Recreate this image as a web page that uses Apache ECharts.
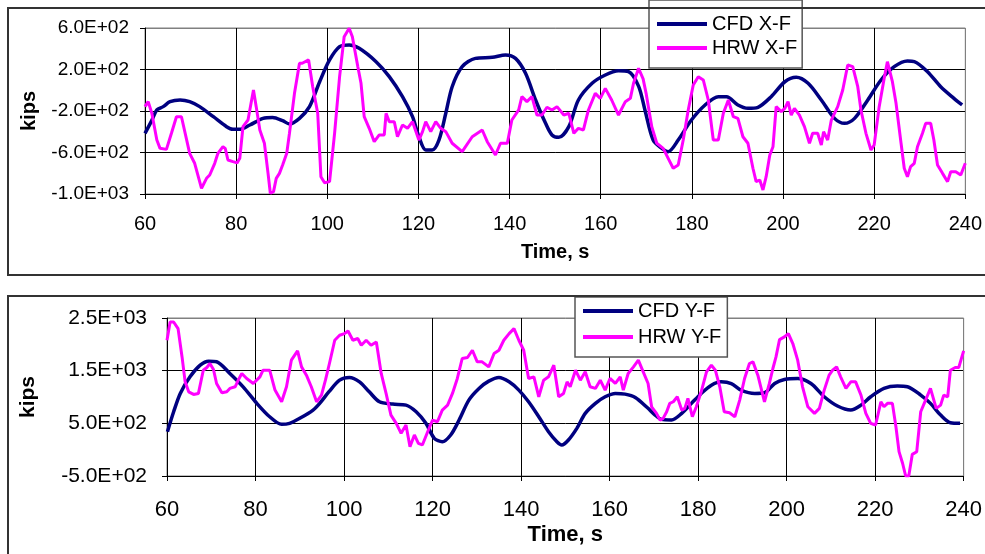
<!DOCTYPE html>
<html>
<head>
<meta charset="utf-8">
<script src="https://cdn.jsdelivr.net/npm/echarts@6/dist/echarts.min.js"></script>
<style>
  html, body { margin: 0; padding: 0; background: #fff; }
  #chart { width: 985px; height: 554px; }
</style>
</head>
<body>
<div id="chart"></div>
<script>
// Axis ticks
const timeMin = 60, timeMax = 240, timeStep = 20;
const fxTicks = [-1000, -600, -200, 200, 600];
const fyTicks = [-500, 500, 1500, 2500];

// Series names
const namesX = ['CFD X-F', 'HRW X-F'];
const namesY = ['CFD Y-F', 'HRW Y-F'];

// X-direction force, kips: [time s, force]
const cfdX = [
  [60,-415],[61.5,-290],[62.6,-190],[64,-158],[65.5,-110],[67.7,-94],[69.8,-110],[72,-158],
  [75,-255],[77.9,-351],[79.3,-377],[80.7,-377],[83,-335],[85.9,-271],[88,-262],[90.2,-293],
  [91.7,-325],[93.9,-271],[96.1,-158],[98.3,80],[100.5,292],[102.7,420],[104.8,436],[107,404],
  [110.7,275],[113.6,131],[116.5,-62],[118.7,-255],[120.1,-448],[121.6,-576],[123,-576],[124.5,-480],
  [126,-222],[127.4,34],[129.6,227],[132.5,307],[136.2,317],[139.1,340],[141.3,307],[143.5,163],
  [145.7,-94],[147.9,-319],[149.3,-431],[150.8,-454],[153,-351],[155.1,-94],[158.1,67],[161,147],
  [163.9,188],[166.1,179],[168.3,40],[169.7,-190],[171.5,-480],[173.4,-560],[174.8,-592],[177,-480],
  [179.9,-287],[182.9,-142],[185.8,-62],[187.6,-62],[190.1,-142],[192.3,-174],[194.5,-164],[197.4,-62],
  [200.4,82],[202.9,125],[205.5,67],[208.4,-94],[211.3,-271],[213.5,-319],[215.7,-271],[218.6,-94],
  [221.5,99],[224.4,227],[227.3,282],[228.8,276],[231.7,179],[234.6,34],[237.5,-78],[239.3,-142]
];
const hrwX = [
  [60,-158],[60.7,-110],[61.5,-222],[62.6,-480],[63.3,-560],[64.7,-570],[65.8,-415],[66.9,-255],
  [68,-255],[69.8,-608],[70.9,-704],[72.4,-945],[73.5,-849],[74.2,-817],[75.3,-704],[76,-608],
  [77.1,-544],[77.6,-560],[78.2,-672],[79.3,-688],[80.2,-700],[80.8,-656],[81.5,-351],[82.6,-287],
  [83.8,2],[84.4,-158],[85.2,-383],[86.2,-511],[87,-801],[87.5,-993],[88.2,-977],[88.8,-849],
  [89.5,-801],[90.2,-720],[91.1,-608],[91.7,-415],[92.8,-30],[93.9,260],[94.5,260],[95.9,292],
  [96.8,34],[97.9,-222],[98.6,-833],[99.4,-891],[100.5,-881],[101.6,-415],[102.7,131],[103.7,516],
  [104.8,597],[105.5,516],[106.7,227],[107.4,67],[108.1,-255],[109.2,-367],[110.3,-496],[111.4,-431],
  [112.5,-431],[112.9,-222],[113.6,-303],[114.7,-303],[115.4,-448],[116.5,-335],[117.6,-367],[118.7,-303],
  [120.1,-480],[120.9,-399],[121.6,-303],[122.7,-399],[123.8,-303],[124.9,-367],[126,-399],[127.4,-511],
  [129.6,-592],[131.8,-448],[134,-383],[135.1,-496],[136.9,-624],[138,-511],[139.5,-511],[140.5,-287],
  [142,-190],[142.7,-62],[143.8,-110],[144.9,-62],[146,-239],[147.1,-239],[148.2,-164],[149.3,-190],
  [150.4,-158],[151.9,-239],[153,-222],[154.1,-415],[155.1,-367],[156.2,-383],[157.3,-190],[158.8,-30],
  [159.9,-78],[161,18],[162.4,-94],[163.9,-239],[165.4,-110],[166.5,-78],[167.2,67],[168.3,212],
  [169.3,110],[170,-40],[171.2,-351],[172.3,-511],[173.7,-560],[174.8,-656],[175.9,-752],[177,-720],
  [178.1,-480],[179.2,-190],[180.3,51],[181.4,131],[182.5,99],[183.6,-94],[184.7,-480],[185.8,-480],
  [186.9,-222],[188,-94],[189.1,-255],[190.1,-271],[191.2,-448],[192.3,-511],[193.4,-752],[194.1,-881],
  [194.9,-865],[195.6,-961],[196.3,-833],[197.1,-624],[197.8,-544],[198.5,-158],[199.6,-206],[200.4,-174],
  [201.1,-110],[201.8,-239],[202.5,-174],[203.6,-239],[204.7,-351],[205.8,-511],[206.5,-415],[207.6,-415],
  [208.4,-527],[208.9,-399],[209.8,-480],[210.6,-287],[212,-158],[213.1,2],[214.2,243],[215.3,227],
  [216.4,34],[217.1,-190],[218.2,-415],[219.3,-576],[220,-527],[221.1,-158],[222.2,115],[222.9,275],
  [224,83],[224.8,-126],[225.9,-511],[226.6,-752],[227.3,-833],[228,-736],[228.8,-704],[229.5,-544],
  [230.6,-415],[231.3,-319],[232.4,-319],[233.1,-480],[233.9,-720],[235,-801],[236.1,-881],[236.8,-785],
  [237.9,-785],[239,-817],[240,-704]
];

// Y-direction force, kips: [time s, force]
const cfdY = [
  [60.1,341],[61.5,720],[63,1068],[65.2,1383],[67.5,1604],[69.4,1680],[71.2,1670],[74.2,1447],
  [77.2,1193],[80.3,879],[83.2,625],[85.9,481],[87.7,500],[90,595],[93,752],[94.5,879],
  [96.6,1100],[99,1320],[101.2,1371],[103.5,1288],[105.7,1098],[108,909],[111,865],[114,846],
  [116.3,720],[118.5,500],[120.4,216],[122.2,151],[124.1,278],[126,562],[128.2,941],[130.5,1163],
  [132.7,1301],[135,1371],[137.3,1288],[139.5,1131],[141.7,909],[144,625],[146.2,341],[148.1,151],
  [149.2,89],[150.7,184],[152.6,405],[154.5,689],[156.8,879],[159,1004],[161.3,1068],[163.5,1055],
  [165.8,992],[168.5,800],[170.3,657],[171.7,575],[174,565],[176.3,689],[178.5,879],[180.7,1068],
  [183,1225],[185.2,1288],[187.5,1256],[189.7,1131],[192.8,1068],[195,1080],[197.3,1257],[199.5,1333],
  [202.5,1352],[205.5,1257],[208.5,1004],[211.5,828],[214.5,752],[216.8,846],[219,1004],[222,1163],
  [225,1207],[227.3,1194],[230.3,1036],[232.5,879],[234.8,657],[237,511],[239.2,500]
];
const hrwY = [
  [60,2078],[60.7,2424],[61.5,2424],[62.5,2299],[63.4,1761],[64.1,1288],[64.9,1098],[66,1049],
  [67.1,1068],[68.2,1509],[69,1560],[69.7,1636],[70.5,1522],[71.2,1257],[72.4,1080],[73.5,1100],
  [74.2,1163],[75.4,1194],[76.1,1320],[76.9,1447],[78,1351],[79.5,1257],[81,1383],[81.7,1509],
  [83.2,1509],[84.4,1131],[85.9,909],[87,1194],[88.1,1699],[89.5,1875],[90.4,1572],[91.5,1415],
  [92.6,1194],[93.8,909],[94.9,1036],[95.8,1320],[96.7,1636],[97.9,2078],[99,2172],[100.1,2204],
  [100.9,2254],[102,2078],[103.1,2110],[103.9,1983],[105,2078],[106.1,1983],[107.3,2046],[108.4,1447],
  [109.5,1068],[110.6,657],[111.8,500],[112.9,310],[114,468],[114.9,57],[115.9,278],[116.8,121],
  [117.7,89],[118.9,341],[120,562],[121.1,530],[122.2,752],[123.4,846],[124.5,1068],[125.6,1352],
  [126.7,1731],[127.9,1750],[129,1888],[130.1,1667],[131.2,1667],[132.7,1572],[133.9,1825],[135,1888],
  [136.1,2078],[137.3,2204],[138.4,2299],[139.5,2078],[140.6,1888],[141.7,1352],[142.9,1383],[144,1004],
  [145.1,1320],[146.2,1383],[147.4,1604],[148.5,1004],[149.6,1068],[150.4,1288],[151.1,1194],[152.3,1509],
  [153.4,1320],[154.5,1478],[155.6,1194],[156.8,1163],[157.9,1320],[159,1131],[160.1,1352],[161.3,1257],
  [162.4,1383],[163.1,1131],[164.2,1447],[165.4,1572],[166.5,1699],[167.6,1478],[168.7,1257],[169.5,814],
  [170.6,689],[171.4,562],[172.1,594],[172.9,720],[173.6,879],[174.4,910],[175.3,1004],[176.3,752],
  [177,784],[177.7,973],[178.7,625],[179.6,814],[180.7,1098],[181.9,1478],[183,1604],[183.9,1509],
  [184.9,1194],[185.9,720],[187.1,700],[188.3,625],[189.4,941],[190.5,1352],[191.6,1636],[192.4,1667],
  [193.5,1415],[195,909],[196.1,1257],[196.9,1541],[197.6,1761],[198.4,2090],[199.5,2141],[200.4,2204],
  [201.4,2015],[202.5,1699],[203.6,1194],[204.8,814],[206.3,689],[207.4,784],[208.5,1131],[209.6,1415],
  [210.4,1509],[211.3,1572],[212.2,1383],[213.4,1163],[214.5,1288],[215.6,1288],[216.8,1036],[217.9,689],
  [219,500],[220.1,468],[221.3,909],[222,814],[222.8,879],[223.9,879],[224.7,436],[225.4,-38],
  [226.2,-258],[226.9,-500],[227.6,-500],[228.4,-89],[229.4,-38],[230.3,720],[231.4,941],[232.5,1163],
  [232.9,1194],[233.8,784],[234.8,846],[235.5,1036],[236.4,1004],[237,1509],[238.1,1560],[238.9,1560],
  [240,1875]
];

const NAVY = '#000080', MAGENTA = '#ff00ff';
const FONT = '"Liberation Sans", Arial, sans-serif';

// 6.0E+02 style labels
function sci(v) {
  const parts = Number(v).toExponential(1).split('e');
  const sign = parts[1][0] === '-' ? '-' : '+';
  const digits = parts[1].replace(/[+-]/, '').padStart(2, '0');
  return parts[0] + 'E' + sign + digits;
}

const nTime = (timeMax - timeMin) / timeStep;
const xSplitColors = [];
for (let i = 0; i <= nTime; i++) xSplitColors.push(i === nTime ? '#808080' : '#000');

function timeAxis(gridIndex, labelSize, labelMargin, nameSize, nameGap) {
  return {
    type: 'value', gridIndex, min: timeMin, max: timeMax, interval: timeStep,
    name: 'Time, s', nameLocation: 'middle', nameGap,
    nameTextStyle: { fontFamily: FONT, fontSize: nameSize, fontWeight: 'bold', color: '#000' },
    axisLine: { show: true, onZero: false, lineStyle: { color: '#000', width: 1 } },
    axisTick: { show: true, length: 5, lineStyle: { color: '#000' } },
    axisLabel: { fontFamily: FONT, fontSize: labelSize, color: '#000', margin: labelMargin },
    splitLine: { show: true, lineStyle: { color: xSplitColors, width: 1 } }
  };
}

function forceAxis(gridIndex, ticks, labelSize, labelMargin, nameSize, nameGap) {
  const cols = ticks.map((t, i) => i === ticks.length - 1 ? '#808080' : '#000');
  return {
    type: 'value', gridIndex, min: ticks[0], max: ticks[ticks.length - 1],
    name: 'kips', nameLocation: 'middle', nameGap, nameRotate: 90,
    nameTextStyle: { fontFamily: FONT, fontSize: nameSize, fontWeight: 'bold', color: '#000' },
    axisLine: { show: true, onZero: false, lineStyle: { color: '#000', width: 1 } },
    axisTick: { show: true, length: 5, customValues: ticks, lineStyle: { color: '#000' } },
    axisLabel: { fontFamily: FONT, fontSize: labelSize, color: '#000', margin: labelMargin,
                 customValues: ticks, formatter: sci },
    splitLine: { show: true, lineStyle: { color: cols, width: 1 } }
  };
}

function legendBox(names, left, top, padding, gap) {
  return {
    data: names, left, top, orient: 'vertical', padding, itemGap: gap,
    itemWidth: 50, itemHeight: 4, icon: 'rect', selectedMode: false,
    backgroundColor: '#fff', borderColor: '#555', borderWidth: 1.5,
    textStyle: { fontFamily: FONT, fontSize: 20, color: '#000', lineHeight: 22, padding: [0, 0, 0, 0] }
  };
}

const chart = echarts.init(document.getElementById('chart'), null, { renderer: 'canvas' });
chart.setOption({
  animation: false,
  backgroundColor: '#fff',
  grid: [
    { left: 145, top: 28, width: 823, height: 166, show: true, borderColor: '#808080', borderWidth: 1, backgroundColor: '#fff' },
    { left: 167, top: 318, width: 800, height: 158, show: true, borderColor: '#808080', borderWidth: 1, backgroundColor: '#fff' }
  ],
  xAxis: [
    timeAxis(0, 20, 20, 20, 48),
    timeAxis(1, 22, 23, 22, 48)
  ],
  yAxis: [
    forceAxis(0, fxTicks, 19, 16, 20, 106),
    forceAxis(1, fyTicks, 21, 20, 21, 128)
  ],
  legend: [
    legendBox(namesX, 649, 0, [13, 5, 9, 8], 2),
    legendBox(namesY, 575, 297, [3, 6, 9, 8], 4)
  ],
  graphic: [
    { type: 'rect', z: 100, silent: true, shape: { x: 8, y: 8, width: 990, height: 267 },
      style: { fill: 'none', stroke: '#333', lineWidth: 2 } },
    { type: 'rect', z: 100, silent: true, shape: { x: 8, y: 296, width: 990, height: 280 },
      style: { fill: 'none', stroke: '#333', lineWidth: 2 } }
  ],
  series: [
    { name: namesX[0], type: 'line', xAxisIndex: 0, yAxisIndex: 0, data: cfdX, showSymbol: false,
      smooth: 0.3, color: NAVY, lineStyle: { color: NAVY, width: 3.5 } },
    { name: namesX[1], type: 'line', xAxisIndex: 0, yAxisIndex: 0, data: hrwX, showSymbol: false,
      color: MAGENTA, lineStyle: { color: MAGENTA, width: 3 } },
    { name: namesY[0], type: 'line', xAxisIndex: 1, yAxisIndex: 1, data: cfdY, showSymbol: false,
      smooth: 0.3, color: NAVY, lineStyle: { color: NAVY, width: 3.5 } },
    { name: namesY[1], type: 'line', xAxisIndex: 1, yAxisIndex: 1, data: hrwY, showSymbol: false,
      color: MAGENTA, lineStyle: { color: MAGENTA, width: 3 } }
  ]
});
</script>
</body>
</html>
